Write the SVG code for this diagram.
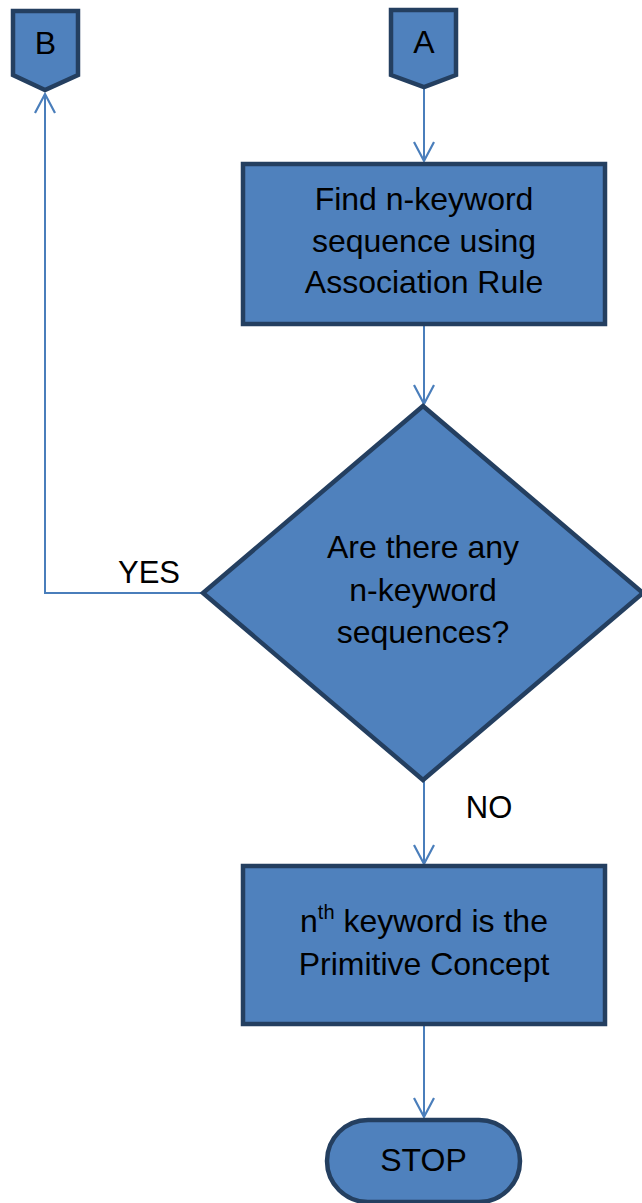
<svg xmlns="http://www.w3.org/2000/svg" width="642" height="1203" viewBox="0 0 642 1203">
<style>
.shape{fill:#4F81BD;stroke:#243F60;stroke-width:4.5;stroke-linejoin:miter}
.conn{fill:none;stroke:#4A7EBB;stroke-width:2}
.t{font-family:"Liberation Sans",Arial,sans-serif;font-size:32px;fill:#000;text-anchor:middle}
.lbl{font-family:"Liberation Sans",Arial,sans-serif;font-size:31px;fill:#000}
</style>
<defs>
<marker id="arr" markerUnits="userSpaceOnUse" markerWidth="24" markerHeight="24" refX="20" refY="11" orient="auto" viewBox="0 0 24 22">
<path d="M1,1 L20,11 L1,21" fill="none" stroke="#4A7EBB" stroke-width="2.2"/>
</marker>
</defs>
<rect width="642" height="1203" fill="#fff"/>
<g id="connectors">
<path class="conn" d="M424,89 L424,161" marker-end="url(#arr)"/>
<path class="conn" d="M424,325 L424,404" marker-end="url(#arr)"/>
<path class="conn" d="M202,593 L45,593 L45,94" marker-end="url(#arr)"/>
<path class="conn" d="M424,781 L424,864" marker-end="url(#arr)"/>
<path class="conn" d="M424,1026 L424,1117" marker-end="url(#arr)"/>
<text class="lbl" x="149" y="583" text-anchor="middle">YES</text>
<text class="lbl" x="489" y="818" text-anchor="middle">NO</text>
</g>
<g id="nodeB">
<path class="shape" d="M13,11 L78,11 L78,75 L45,90 L13,75 Z"/>
<text class="t" x="45.5" y="54" font-size="30">B</text>
</g>
<g id="nodeA">
<path class="shape" d="M391,10 L456,10 L456,75 L424,87 L391,75 Z"/>
<text class="t" x="424" y="53" font-size="30">A</text>
</g>
<g id="find">
<rect class="shape" x="243" y="164" width="362" height="160"/>
<text class="t" x="424" y="210">Find n-keyword</text>
<text class="t" x="424" y="252">sequence using</text>
<text class="t" x="424" y="293">Association Rule</text>
</g>
<g id="decision">
<path class="shape" d="M423,406 L643,593 L423,780 L203,593 Z"/>
<text class="t" x="423" y="558">Are there any</text>
<text class="t" x="423" y="601">n-keyword</text>
<text class="t" x="423" y="643">sequences?</text>
</g>
<g id="primitive">
<rect class="shape" x="243" y="866" width="362" height="158"/>
<text class="t" x="424" y="932">n<tspan font-size="20" dy="-13">th</tspan><tspan dy="13"> keyword is the</tspan></text>
<text class="t" x="424" y="975">Primitive Concept</text>
</g>
<g id="stop">
<rect class="shape" x="327" y="1120" width="193" height="82" rx="41" ry="41"/>
<text class="t" x="423.5" y="1171">STOP</text>
</g>
</svg>
